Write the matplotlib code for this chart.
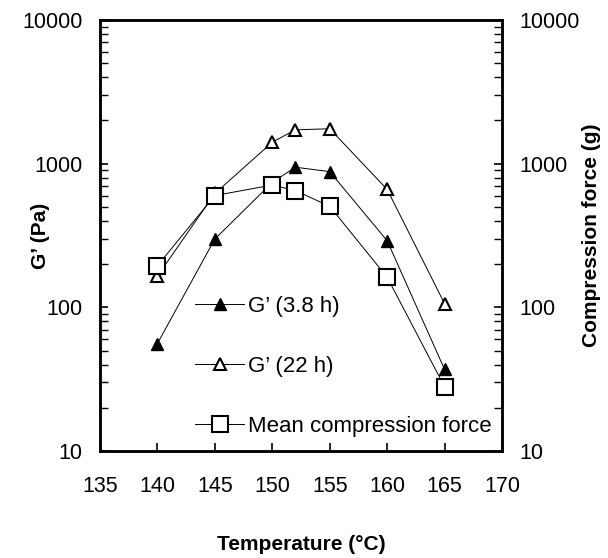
import matplotlib
matplotlib.use("Agg")
import matplotlib.pyplot as plt
from matplotlib.ticker import FixedLocator, NullFormatter, LogLocator

plt.rcParams['font.family'] = ['Liberation Sans', 'DejaVu Sans']

temps = [140, 145, 150, 152, 155, 160, 165]
g_38h = [56, 299, 740, 945, 880, 291, 37]
g_22h = [165, 620, 1410, 1720, 1750, 662, 106]
force = [195, 600, 710, 650, 505, 162, 28]

x_ticks = [135, 140, 145, 150, 155, 160, 165, 170]
y_ticks = [10, 100, 1000, 10000]
y_tick_labels = ["10", "100", "1000", "10000"]

fig = plt.figure(figsize=(6.08, 5.58), dpi=100)
ax = fig.add_axes([100/608, 1 - 451/558, 402/608, 431/558])
ax2 = ax.twinx()

fs = 15.5
h1, = ax.plot(temps, g_38h, color='black', lw=0.7, marker='^', ms=9,
              mfc='black', mec='black', label="G\u2019 (3.8 h)", zorder=3)
h2, = ax.plot(temps, g_22h, color='black', lw=0.7, marker='^', ms=9,
              mfc='white', mec='black', mew=1.5, label="G\u2019 (22 h)", zorder=3)
h3, = ax2.plot(temps, force, color='black', lw=0.7, marker='s', ms=11,
               mfc='white', mec='black', mew=1.5, label="Mean compression force", zorder=4)

for a in (ax, ax2):
    a.set_yscale('log')
    a.set_ylim(10, 10000)
    a.yaxis.set_major_locator(FixedLocator(y_ticks))
    a.set_yticklabels(y_tick_labels)
    a.yaxis.set_minor_locator(LogLocator(base=10, subs=range(2, 10)))
    a.yaxis.set_minor_formatter(NullFormatter())
    for s in a.spines.values():
        s.set_linewidth(1.8)

ax.set_xlim(135, 170)
ax.set_xticks(x_ticks)
ax.tick_params(axis='x', which='major', direction='in', length=6, width=1.2,
               labelsize=fs, pad=18)
ax.tick_params(axis='y', which='major', direction='in', length=6, width=1.2,
               labelsize=fs, pad=12.5)
ax.tick_params(axis='y', which='minor', direction='in', length=6, width=1.0)
ax2.tick_params(axis='y', which='major', direction='in', length=6, width=1.2,
                labelsize=fs, pad=12.5)
ax2.tick_params(axis='y', which='minor', direction='in', length=6, width=1.0)

ax.set_ylabel("G\u2019 (Pa)", fontsize=15, fontweight='bold')
ax.yaxis.set_label_coords(-0.125, 0.5)
ax2.set_ylabel("Compression force (g)", fontsize=15, fontweight='bold')
ax2.yaxis.set_label_coords(1.20, 0.5)
ax.set_xlabel("Temperature (\u00b0C)", fontsize=15, fontweight='bold')
ax.xaxis.set_label_coords(0.5, -0.195)

ax2.legend(handles=[h1, h2, h3], loc='upper left', bbox_to_anchor=(0.215, 0.38),
           frameon=False, fontsize=16, handlelength=2.2, handletextpad=0.15,
           labelspacing=1.75, borderaxespad=0)

fig.savefig("out.png", dpi=100)
